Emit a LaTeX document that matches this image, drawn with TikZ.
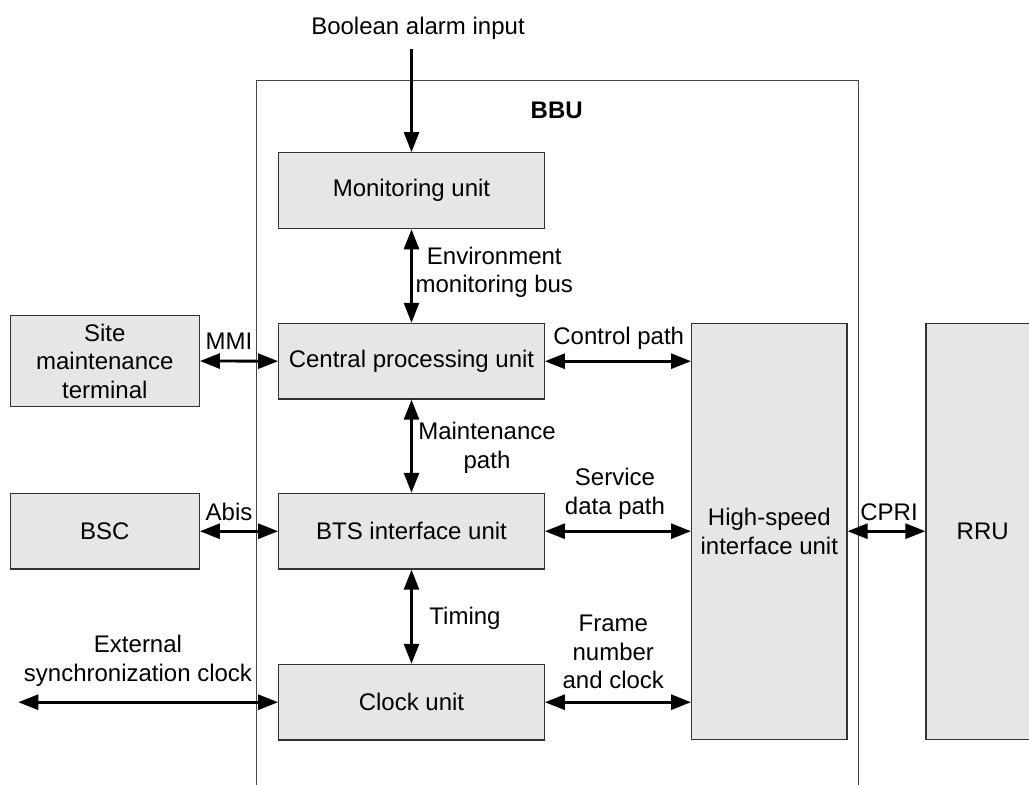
\documentclass[tikz,border=0pt]{standalone}
\usepackage{fontspec}
\setmainfont{Liberation Sans}
\usetikzlibrary{arrows.meta}

\definecolor{boxfill}{RGB}{230,230,230}
\definecolor{boxline}{RGB}{50,50,50}
\definecolor{frameline}{RGB}{70,70,70}

\newcommand{\labelfont}{\fontsize{24}{28.5}\selectfont}

\tikzset{
  unitbox/.style={draw=boxline, fill=boxfill, line width=1.2pt, inner sep=0pt,
    align=center, font=\labelfont},
  wide/.style={unitbox, minimum width=265.6pt, minimum height=76pt},
  side/.style={unitbox, minimum width=189pt},
  tall/.style={unitbox, minimum height=416.2pt},
  tag/.style={font=\labelfont, align=center, inner sep=0pt},
  link/.style={line width=2.8pt,
    {Triangle[length=20pt,width=15pt]}-{Triangle[length=20pt,width=15pt]}},
  feed/.style={line width=2.8pt, -{Triangle[length=20pt,width=15pt]}},
}

\begin{document}
\begin{tikzpicture}[x=1pt, y=-1pt]
  \useasboundingbox (0,0) rectangle (1029,785);
  \clip (0,0) rectangle (1029,785);
  \fill[white] (0,0) rectangle (1029,785);

  % BBU enclosure (open towards the bottom)
  \draw[frameline, line width=1.2pt]
    (256.3,800) -- (256.3,80.7) -- (858.5,80.7) -- (858.5,800);
  \node[tag, font=\labelfont\bfseries] (bbu) at (556.7,110) {BBU};

  % Units inside the BBU
  \node[wide] (mon) at (411.5,190.7) {Monitoring unit};
  \node[wide, minimum height=75.7pt] (cpu) at (411.5,361.2) {Central processing unit};
  \node[wide, minimum height=75.7pt] (bts) at (411.5,531.2) {BTS interface unit};
  \node[wide, minimum height=75.7pt] (clk) at (411.5,702.2) {Clock unit};
  \node[tall, minimum width=155.3pt] (hs) at (769.3,531.4) {High-speed\\interface unit};

  % External equipment
  \node[side, minimum height=91.4pt] (site) at (104.8,361) {Site\\maintenance\\terminal};
  \node[side, minimum height=75.7pt] (bsc) at (104.8,531.2) {BSC};
  \node[tall, minimum width=113.4pt] (rru) at (982.7,531.4) {RRU};

  % Free ends
  \coordinate (alarm) at (411.5,49);
  \coordinate (extclk) at (18.3,702.2);

  % Connectors
  \draw[feed] (alarm) -- (mon.north);
  \draw[link] (mon.south) -- (cpu.north);
  \draw[link] (cpu.south) -- (bts.north);
  \draw[link] (bts.south) -- (clk.north);
  \draw[link] (site.east) -- (cpu.west);
  \draw[link] (bsc.east) -- (bts.west);
  \draw[link] (extclk) -- (clk.west);
  \draw[link] (cpu.east) -- (hs.west |- cpu.east);
  \draw[link] (bts.east) -- (hs.west |- bts.east);
  \draw[link] (clk.east) -- (hs.west |- clk.east);
  \draw[link] (hs.east |- bts.east) -- (rru.west |- bts.east);

  % Connector labels
  \node[tag] (alarmtxt) at (418,28) {Boolean alarm input};
  \node[tag] (envtxt) at (494.3,272.5) {Environment\\monitoring bus};
  \node[tag] (maintxt) at (487,448) {Maintenance\\path};
  \node[tag] (timtxt) at (465,618.3) {Timing};
  \node[tag] (mmitxt) at (229,341.7) {MMI};
  \node[tag] (abistxt) at (229,511.7) {Abis};
  \node[tag] (exttxt) at (138,661) {External\\synchronization clock};
  \node[tag] (ctltxt) at (618.7,338) {Control path};
  \node[tag] (svctxt) at (615,494) {Service\\data path};
  \node[tag] (frmtxt) at (613.3,652) {Frame\\number\\and clock};
  \node[tag] (cpritxt) at (889,512) {CPRI};
\end{tikzpicture}
\end{document}
